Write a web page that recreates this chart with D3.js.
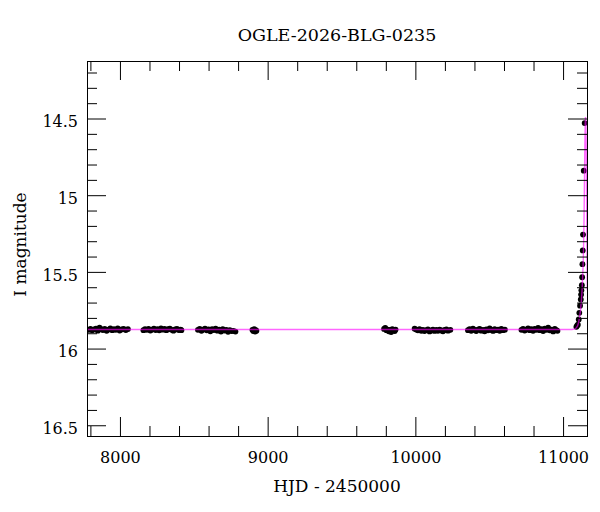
<!DOCTYPE html>
<html lang="en">
<head>
<meta charset="utf-8">
<title>OGLE-2026-BLG-0235</title>
<script src="https://d3js.org/d3.v7.min.js"></script>
<style>
  body { margin: 0; background: #fff; }
  svg text { font-family: "DejaVu Serif", serif; fill: #000; }
</style>
</head>
<body>
<svg id="chart" width="600" height="512"></svg>
<script>
// photometry, HJD - 2450000 and I magnitude
var obsHjd = [
  7790, 7800, 7812, 7825, 7838, 7850, 7862, 7873, 7885, 7897, 7910, 7922, 7935, 7948, 7960, 7972, 7985, 7998, 8012, 8025, 8040, 8054,
  8159, 8170, 8182, 8194, 8206, 8218, 8230, 8242, 8254, 8266, 8278, 8290, 8302, 8314, 8326, 8338, 8350, 8362, 8374, 8386, 8398, 8410, 8416,
  8528, 8540, 8552, 8564, 8576, 8588, 8600, 8612, 8624, 8636, 8648, 8660, 8672, 8684, 8696, 8708, 8720, 8732, 8744, 8756, 8768, 8782,
  8897, 8903, 8909, 8915, 8920, 8924,
  9788, 9796, 9804, 9812, 9820, 9828, 9836, 9844, 9852, 9860, 9866,
  9995, 10006, 10017, 10028, 10040, 10051, 10062, 10074, 10085, 10096, 10108, 10119, 10130, 10142, 10153, 10164, 10176, 10187, 10198, 10210, 10221, 10237,
  10356, 10367, 10378, 10390, 10401, 10412, 10424, 10435, 10446, 10458, 10469, 10480, 10492, 10503, 10514, 10526, 10537, 10548, 10560, 10571, 10582, 10594, 10606,
  10718, 10729, 10740, 10751, 10763, 10774, 10785, 10797, 10808, 10819, 10831, 10842, 10853, 10865, 10876, 10887, 10899, 10910, 10921, 10933, 10944, 10955, 10962,
  11090, 11095, 11100, 11106, 11110, 11115, 11120, 11122, 11124, 11127, 11129, 11131, 11133, 11135, 11140, 11146
];
var obsMag = [
  15.878, 15.872, 15.880, 15.875, 15.870, 15.883, 15.864, 15.874, 15.879, 15.871, 15.884, 15.876, 15.869, 15.880, 15.874, 15.878, 15.868, 15.882, 15.875, 15.871, 15.879, 15.873,
  15.880, 15.874, 15.878, 15.871, 15.882, 15.876, 15.870, 15.879, 15.873, 15.881, 15.868, 15.877, 15.872, 15.880, 15.874, 15.870, 15.878, 15.883, 15.875, 15.871, 15.879, 15.876, 15.880,
  15.878, 15.872, 15.884, 15.876, 15.870, 15.881, 15.875, 15.887, 15.873, 15.879, 15.870, 15.883, 15.877, 15.889, 15.874, 15.882, 15.878, 15.891, 15.880, 15.886, 15.884, 15.889,
  15.878, 15.886, 15.874, 15.889, 15.880, 15.884,
  15.872, 15.865, 15.880, 15.876, 15.887, 15.878, 15.892, 15.874, 15.880, 15.886, 15.876,
  15.870, 15.876, 15.881, 15.874, 15.884, 15.878, 15.886, 15.880, 15.875, 15.888, 15.882, 15.877, 15.885, 15.879, 15.884, 15.876, 15.882, 15.887, 15.879, 15.875, 15.883, 15.878,
  15.880, 15.874, 15.884, 15.870, 15.879, 15.886, 15.876, 15.872, 15.883, 15.878, 15.887, 15.875, 15.881, 15.869, 15.879, 15.885, 15.874, 15.880, 15.876, 15.884, 15.872, 15.880, 15.877,
  15.878, 15.872, 15.882, 15.876, 15.869, 15.880, 15.874, 15.884, 15.871, 15.878, 15.866, 15.880, 15.874, 15.886, 15.870, 15.878, 15.864, 15.881, 15.876, 15.888, 15.872, 15.880, 15.884,
  15.858, 15.850, 15.844, 15.810, 15.767, 15.720, 15.680, 15.648, 15.620, 15.587, 15.535, 15.450, 15.360, 15.257, 14.840, 14.530
];

// fitted model curve
var modelHjd = [7700, 11060, 11080, 11090, 11098, 11105, 11112, 11118, 11123, 11128, 11132, 11136, 11139, 11142, 11144, 11146, 11148, 11150, 11152, 11154, 11156, 11158, 11160, 11162, 11164];
var modelMag = [15.876, 15.876, 15.872, 15.865, 15.852, 15.830, 15.795, 15.750, 15.700, 15.630, 15.550, 15.450, 15.330, 15.150, 14.980, 14.800, 14.640, 14.530, 14.490, 14.520, 14.640, 14.840, 15.100, 15.380, 15.620];

var xMajor = [8000, 9000, 10000, 11000];
var xMinor = [7800, 8200, 8400, 8600, 8800, 9200, 9400, 9600, 9800, 10200, 10400, 10600, 10800];
var yMajor = [14.5, 15, 15.5, 16, 16.5];
var yMinor = [14.2, 14.3, 14.4, 14.6, 14.7, 14.8, 14.9, 15.1, 15.2, 15.3, 15.4, 15.6, 15.7, 15.8, 15.9, 16.1, 16.2, 16.3, 16.4];

var titleText = "OGLE-2026-BLG-0235",
    xLabel = "HJD - 2450000",
    yLabel = "I magnitude";

var L = 87, R = 587, T = 61, B = 436;

var svg = d3.select("#chart");

var x = d3.scaleLinear().domain([7777, 11162]).range([L, R]);
var y = d3.scaleLinear().domain([14.125, 16.57]).range([T, B]);

svg.append("defs").append("clipPath").attr("id", "plotclip")
  .append("rect").attr("x", L).attr("y", T).attr("width", R - L + 1).attr("height", B - T);

var plot = svg.append("g").attr("clip-path", "url(#plotclip)");

plot.selectAll("circle")
  .data(obsHjd.map(function(d, i) { return [d, obsMag[i]]; }))
  .enter().append("circle")
  .attr("cx", function(d) { return x(d[0]); })
  .attr("cy", function(d) { return y(d[1]); })
  .attr("r", 2.9)
  .attr("fill", "#000");

var line = d3.line()
  .x(function(d) { return x(d[0]); })
  .y(function(d) { return y(d[1]); });

plot.append("path")
  .datum(modelHjd.map(function(d, i) { return [d, modelMag[i]]; }))
  .attr("d", line)
  .attr("fill", "none")
  .attr("stroke", "#ff00ff")
  .attr("stroke-opacity", 0.6)
  .attr("stroke-width", 1.4);

// axes, ticks pointing inward on all four sides
function axis(gen, tx, ty, vals, size, labels, pad) {
  var g = svg.append("g").attr("transform", "translate(" + tx + "," + ty + ")")
    .call(gen.tickValues(vals).tickSize(-size).tickPadding(pad || 3)
      .tickFormat(labels ? d3.format("") : ""));
  g.select(".domain").remove();
  g.selectAll("line").attr("stroke", "#000");
  g.selectAll("text").attr("font-size", 16).attr("font-family", "DejaVu Serif, serif");
  return g;
}

axis(d3.axisLeft(y), L, 0, yMajor, 19, true, 9).selectAll("text").attr("dy", "0.52em");
axis(d3.axisLeft(y), L, 0, yMinor, 10, false);
axis(d3.axisRight(y), R, 0, yMajor, 19, false);
axis(d3.axisRight(y), R, 0, yMinor, 10, false);
axis(d3.axisBottom(x), 0, B, xMajor, 19, true, 16);
axis(d3.axisBottom(x), 0, B, xMinor, 10, false);
axis(d3.axisTop(x), 0, T, xMajor, 19, false);
axis(d3.axisTop(x), 0, T, xMinor, 10, false);

svg.append("rect")
  .attr("x", L + 0.5).attr("y", T + 0.5)
  .attr("width", R - L).attr("height", B - T)
  .attr("fill", "none").attr("stroke", "#000").attr("stroke-width", 1);

svg.append("text")
  .attr("x", (L + R) / 2).attr("y", 41)
  .attr("text-anchor", "middle").attr("font-size", 17.5)
  .text(titleText);

svg.append("text")
  .attr("x", (L + R) / 2).attr("y", 492)
  .attr("text-anchor", "middle").attr("font-size", 17)
  .text(xLabel);

svg.append("text")
  .attr("transform", "translate(26," + ((T + B) / 2 - 4) + ") rotate(-90)")
  .attr("text-anchor", "middle").attr("font-size", 17)
  .text(yLabel);
</script>
</body>
</html>
